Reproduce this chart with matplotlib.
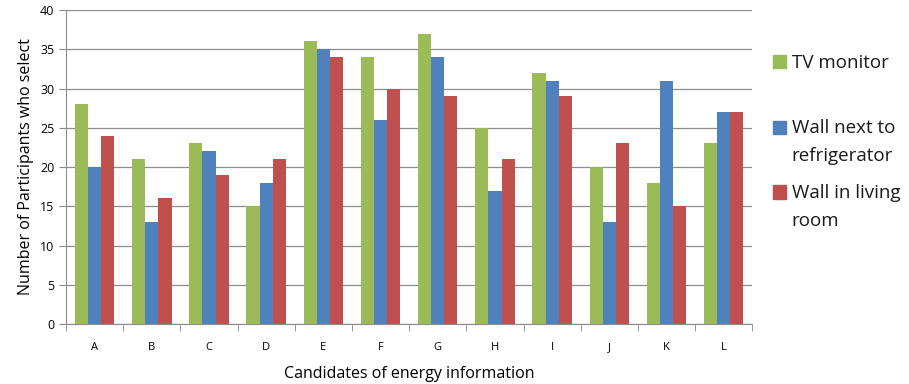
import numpy as np
import matplotlib.pyplot as plt
from matplotlib.patches import Rectangle

plt.rcParams['font.family'] = ['Open Sans', 'DejaVu Sans']

candidates = ['A', 'B', 'C', 'D', 'E', 'F', 'G', 'H', 'I', 'J', 'K', 'L']
tv_monitor = [28, 21, 23, 15, 36, 34, 37, 25, 32, 20, 18, 23]
wall_fridge = [20, 13, 22, 18, 35, 26, 34, 17, 31, 13, 31, 27]
wall_living = [24, 16, 19, 21, 34, 30, 29, 21, 29, 23, 15, 27]

series_labels = ['TV monitor', 'Wall next to\nrefrigerator', 'Wall in living\nroom']
colors = ['#9BBB59', '#4F81BD', '#C0504D']

fig = plt.figure(figsize=(9.09, 3.84), dpi=100)
ax = fig.add_axes([0.0726, 0.156, 0.755, 0.818])

x = np.arange(len(candidates))
w = 0.23
for i, vals in enumerate([tv_monitor, wall_fridge, wall_living]):
    ax.bar(x + (i - 1) * w, vals, w, color=colors[i], zorder=3)

ax.set_xlim(-0.5, len(candidates) - 0.5)
ax.set_ylim(0, 40)
ax.set_yticks(range(0, 41, 5))
ax.grid(axis='y', color='#8c8c8c', linewidth=0.9, zorder=0)

ax.set_xticks(x)
ax.set_xticklabels(candidates, fontsize=8)
ax.set_xticks(np.arange(-0.5, len(candidates)), minor=True)
ax.tick_params(axis='x', which='major', length=0, pad=13)
ax.tick_params(axis='x', which='minor', length=5, color='#8c8c8c')
ax.tick_params(axis='y', length=5, color='#8c8c8c', labelsize=9)

for s in ['top', 'right']:
    ax.spines[s].set_visible(False)
for s in ['left', 'bottom']:
    ax.spines[s].set_color('#8c8c8c')

ax.set_ylabel('Number of Participants who select', fontsize=11.5)
ax.set_xlabel('Candidates of energy information', fontsize=11.5, labelpad=9)

# legend drawn by hand: square beside the first line of each label
square_mid = [0.839, 0.669, 0.500]
for lab, c, ym in zip(series_labels, colors, square_mid):
    fig.patches.append(Rectangle((0.850, ym - 0.017), 0.0143, 0.034,
                                 color=c, transform=fig.transFigure))
    fig.text(0.871, ym + 0.021, lab, fontsize=13.5, va='top', ha='left',
             linespacing=1.7, color='#1a1a1a')

fig.savefig('out.png', dpi=100)
